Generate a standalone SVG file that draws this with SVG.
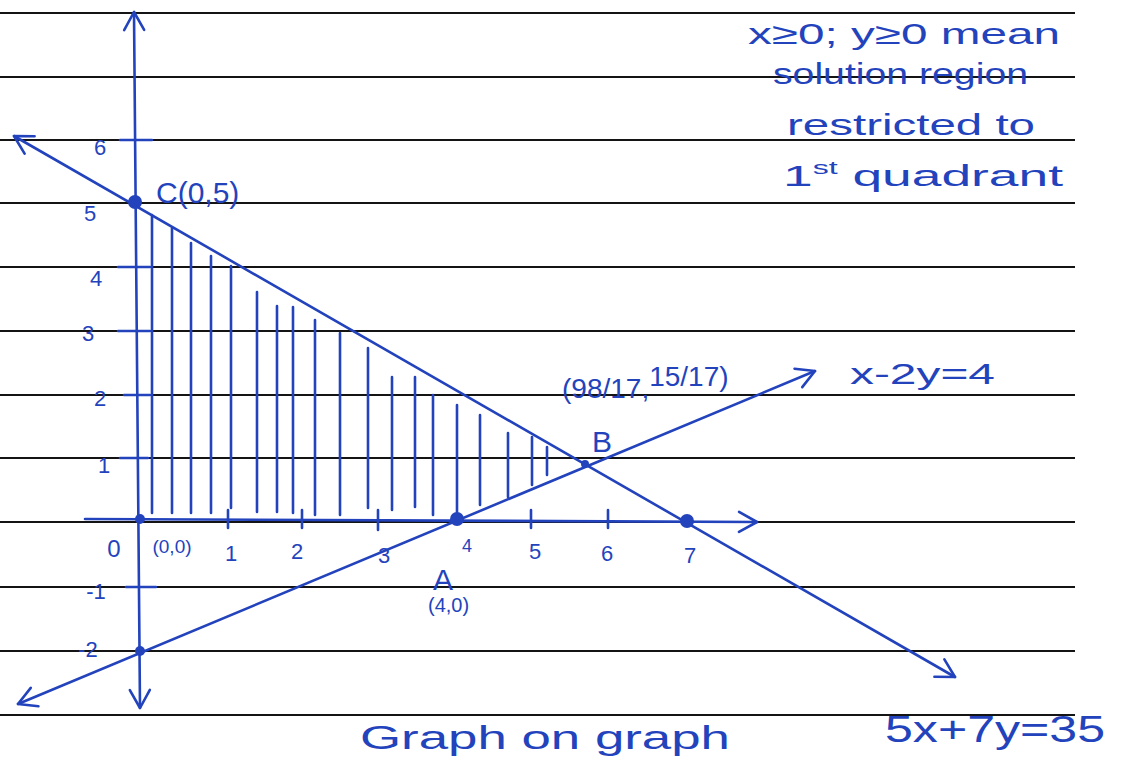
<svg xmlns="http://www.w3.org/2000/svg" width="1123" height="758" viewBox="0 0 1123 758">
<style>
.rule{stroke:#141414;stroke-width:2.2;fill:none}
.pen{stroke:#2343bd;stroke-width:2.6;fill:none;stroke-linecap:round}
.hatch{stroke:#2343bd;stroke-width:2.6;fill:none;stroke-linecap:round}
.dot{fill:#2343bd}
text{font-family:"Liberation Sans","DejaVu Sans",sans-serif;fill:#2343bd}
.num{font-size:22px;text-anchor:middle}
.lbl{font-size:30px}
.note{font-size:30px}
</style>
<defs>
<marker id="arrL" viewBox="0 0 24 24" refX="22" refY="12" markerWidth="24" markerHeight="24" orient="auto-start-reverse" markerUnits="userSpaceOnUse">
<path d="M4,2 L22,12 L4,22" fill="none" stroke="#2343bd" stroke-width="2.6" stroke-linecap="round" stroke-linejoin="round"/>
</marker>
</defs>
<rect width="1123" height="758" fill="#ffffff"/>
<g id="ruled-lines">
<path class="rule" d="M0,13H1075M0,77H1075M0,140H1075M0,203H1075M0,267H1075M0,331H1075M0,395H1075M0,458H1075M0,522H1075M0,587H1075M0,651H1075M0,715H1075"/>
</g>
<g id="hatching">
<path class="hatch" d="M152,215V513M172,228V513M191,243V513M211,256V513M231,266V508M257,292V512M277,306V512M293,307V513M315,320V515M340,333V515M368,348V508M392,377V510M415,377V507M433,395V515M457,405V515M480,415V505M508,433V497M532,437V485M547,447V475"/>
</g>
<g id="connectors">
<path id="y-axis" class="pen" d="M140,708L134,12" marker-start="url(#arrL)" marker-end="url(#arrL)"/>
<path id="x-axis" class="pen" d="M85,519L757,522" marker-end="url(#arrL)"/>
<path id="line-5x7y" class="pen" d="M14,136L955,677" marker-start="url(#arrL)" marker-end="url(#arrL)"/>
<path id="line-x2y" class="pen" d="M18,704L815,371" marker-start="url(#arrL)" marker-end="url(#arrL)"/>
<path id="y-ticks" class="pen" d="M120,140H152M118,267H150M118,331H150M124,395H150M120,458H148M126,587H156"/>
<path id="x-ticks" class="pen" d="M228,510V528M302,510V528M378,510V530M531,510V528M608,510V528"/>
</g>
<g id="axis-labels">
<text class="num" x="100" y="155">6</text>
<text class="num" x="90" y="221">5</text>
<text class="num" x="96" y="286">4</text>
<text class="num" x="88" y="341">3</text>
<text class="num" x="100" y="406">2</text>
<text class="num" x="104" y="473">1</text>
<text class="num" x="96" y="599">-1</text>
<text class="num" x="88" y="657">-2</text>
<text class="num" x="114" y="557" style="font-size:24px">0</text>
<text class="num" x="172" y="553" style="font-size:19px">(0,0)</text>
<text class="num" x="231" y="561">1</text>
<text class="num" x="297" y="559">2</text>
<text class="num" x="384" y="563">3</text>
<text class="num" x="535" y="559">5</text>
<text class="num" x="607" y="561">6</text>
<text class="num" x="690" y="563">7</text>
</g>
<g id="node-C">
<circle class="dot" cx="135" cy="202" r="7"/>
<text class="lbl" x="156" y="203">C(0,5)</text>
</g>
<g id="node-O">
<circle class="dot" cx="140" cy="519" r="5"/>
</g>
<g id="node-A">
<circle class="dot" cx="457" cy="519" r="7"/>
<text class="lbl" x="433" y="590">A</text>
<text x="462" y="552" style="font-size:18px">4</text>
<text x="428" y="612" style="font-size:20px">(4,0)</text>
</g>
<g id="node-B">
<circle class="dot" cx="585" cy="464" r="4"/>
<text class="lbl" x="592" y="452">B</text>
<text x="562" y="398" style="font-size:28px">(98/17,<tspan dy="-12">15/17)</tspan></text>
</g>
<g id="node-7">
<circle class="dot" cx="687" cy="521" r="7"/>
</g>
<g id="node-minus2">
<circle class="dot" cx="140" cy="651" r="5"/>
</g>
<g id="equation-labels">
<text x="850" y="384" style="font-size:30px" textLength="145" lengthAdjust="spacingAndGlyphs">x-2y=4</text>
<text x="885" y="742" style="font-size:36px" textLength="220" lengthAdjust="spacingAndGlyphs">5x+7y=35</text>
</g>
<g id="note">
<text class="note" x="748" y="44" textLength="312" lengthAdjust="spacingAndGlyphs">x≥0; y≥0 mean</text>
<text class="note" x="773" y="84" textLength="255" lengthAdjust="spacingAndGlyphs">solution region</text>
<text class="note" x="787" y="135" textLength="248" lengthAdjust="spacingAndGlyphs">restricted to</text>
<text class="note" x="783" y="186" textLength="280" lengthAdjust="spacingAndGlyphs">1<tspan dy="-12" style="font-size:18px">st</tspan><tspan dy="12"> quadrant</tspan></text>
</g>
<g id="caption">
<text x="360" y="749" style="font-size:34px" textLength="370" lengthAdjust="spacingAndGlyphs">Graph on graph</text>
</g>
</svg>
